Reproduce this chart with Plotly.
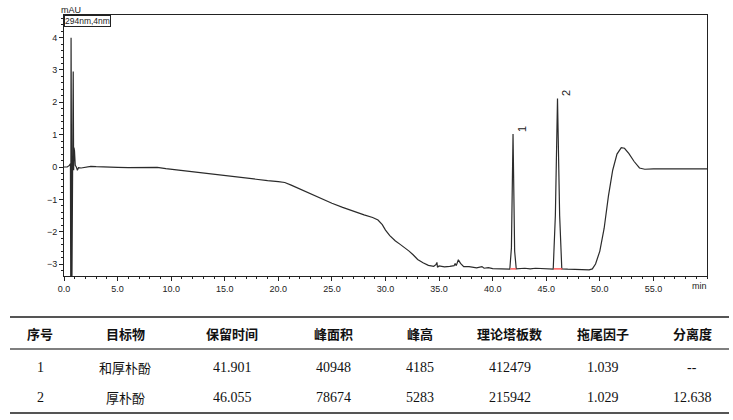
import plotly.graph_objects as go

# ---- chromatogram data ----
time_min = [0.0, 0.3, 0.5, 0.6, 0.63, 0.66, 0.70, 0.74, 0.80, 0.86, 0.90, 0.93, 0.98,
            1.05, 1.15, 1.25, 1.35, 1.6, 2.0, 2.5, 3.0, 4.0, 5.0, 6.0, 7.0, 8.0, 8.7,
            9.5, 10.5, 11.5, 12.7, 14.0, 15.0, 16.0, 17.5, 19.0, 20.0, 20.6, 21.2,
            22.0, 23.0, 24.0, 25.0, 26.0, 27.0, 28.0, 28.8, 29.3, 29.7, 30.0, 30.4,
            30.9, 31.4, 31.9, 32.2, 32.6, 33.0, 33.5, 34.0, 34.5, 34.7, 34.8, 34.85,
            35.0, 35.5, 36.0, 36.4, 36.5, 36.6, 36.8, 37.0, 37.3, 37.8, 38.5, 39.0,
            39.2, 39.6, 40.0, 40.5, 41.0, 41.6, 41.75, 41.9, 42.05, 42.2, 43.0, 43.5,
            44.0, 45.0, 45.65, 45.85, 46.05, 46.25, 46.45, 47.0, 48.0, 49.0, 49.3,
            49.6, 50.0, 50.4, 50.8, 51.2, 51.6, 52.0, 52.3, 52.7, 53.2, 53.7, 54.2,
            55.0, 57.0, 60.0]
signal_mau = [0.0, 0.0, 0.05, 0.1, -3.6, 4.0, 0.3, -3.6, 0.2, 2.95, -0.1, 0.6, 0.5,
              0.05, 0.0, -0.1, -0.02, -0.03, 0.0, 0.02, 0.01, -0.01, -0.01, -0.02, -0.01, -0.01, -0.01,
              -0.05, -0.09, -0.13, -0.18, -0.24, -0.28, -0.32, -0.37, -0.42, -0.45, -0.48, -0.56,
              -0.68, -0.83, -0.98, -1.12, -1.25, -1.37, -1.48, -1.56, -1.64, -1.78, -1.95, -2.12,
              -2.28, -2.40, -2.52, -2.60, -2.72, -2.86, -2.96, -3.04, -3.07, -3.02, -2.95, -3.10,
              -3.06, -3.09, -3.07, -3.05, -2.98, -3.05, -2.87, -2.98, -3.08, -3.08, -3.12, -3.08,
              -3.13, -3.11, -3.14, -3.15, -3.15, -3.16, -2.5, 1.02, -2.6, -3.15, -3.13, -3.15,
              -3.13, -3.16, -3.16, -1.5, 2.12, -1.5, -3.15, -3.16, -3.17, -3.18, -3.15,
              -3.0, -2.6, -1.9, -0.9, -0.1, 0.4, 0.6, 0.58, 0.42, 0.17, -0.03, -0.07,
              -0.06, -0.06, -0.06]

peak_labels = ["1", "2"]
peak_times = [41.9, 46.05]
peak_heights = [1.02, 2.12]
peak_start = [41.65, 45.7]
peak_end = [42.2, 46.5]
peak_base = [-3.15, -3.15]

x_ticks = [0, 5, 10, 15, 20, 25, 30, 35, 40, 45, 50, 55]
x_tick_text = ["0.0", "5.0", "10.0", "15.0", "20.0", "25.0", "30.0", "35.0",
               "40.0", "45.0", "50.0", "55.0"]
y_ticks = [-3, -2, -1, 0, 1, 2, 3, 4]

# ---- table data ----
table_header = ["序号", "目标物", "保留时间", "峰面积", "峰高", "理论塔板数", "拖尾因子", "分离度"]
col_no = ["1", "2"]
col_target = ["和厚朴酚", "厚朴酚"]
col_rt = ["41.901", "46.055"]
col_area = ["40948", "78674"]
col_height = ["4185", "5283"]
col_plates = ["412479", "215942"]
col_tailing = ["1.039", "1.029"]
col_resolution = ["--", "12.638"]

W, H = 733, 420
ML, MR, MT, MB = 64, 26, 15, 144
PW, PH = W - ML - MR, H - MT - MB


def px_x(X):
    return (X - ML) / PW


def px_y(Y):
    return (H - MB - Y) / PH


fig = go.Figure()
fig.add_trace(go.Scatter(x=time_min, y=signal_mau, mode="lines",
                         line=dict(color="#2b2b2b", width=1.2), hoverinfo="skip"))
for s, e, b in zip(peak_start, peak_end, peak_base):
    fig.add_trace(go.Scatter(x=[s, e], y=[b, b], mode="lines",
                             line=dict(color="#ff5a5a", width=1.5), hoverinfo="skip"))

annotations = []
for lab, t, h in zip(peak_labels, peak_times, peak_heights):
    annotations.append(dict(x=t, y=h, xref="x", yref="y", text=lab, showarrow=False,
                            textangle=-90, xanchor="left", yanchor="bottom", xshift=1, yshift=0,
                            font=dict(family="Liberation Sans", size=11, color="#222")))
annotations.append(dict(x=59.3, y=0, xref="x", yref="paper", text="min", showarrow=False,
                        xanchor="center", yanchor="top", yshift=-3,
                        font=dict(family="Liberation Sans", size=9, color="#222")))
annotations.append(dict(x=px_x(71), y=px_y(10), xref="paper", yref="paper", text="mAU",
                        showarrow=False, xanchor="center", yanchor="middle",
                        font=dict(family="Liberation Sans", size=9, color="#222")))
annotations.append(dict(x=0, y=1, xref="paper", yref="paper", text="294nm,4nm",
                        showarrow=False, xanchor="left", yanchor="top",
                        bordercolor="#222", borderwidth=1, borderpad=0, bgcolor="white",
                        font=dict(family="Liberation Sans", size=8.5, color="#222")))

col_x = [40, 125, 232, 333, 420, 510, 603, 692]
header_y = 333
row_y = [367, 397]
for cx, txt in zip(col_x, table_header):
    annotations.append(dict(x=px_x(cx), y=px_y(header_y), xref="paper", yref="paper",
                            text="<b>" + txt + "</b>", showarrow=False,
                            xanchor="center", yanchor="middle",
                            font=dict(family="Noto Sans CJK SC", size=13, color="#111")))
columns = [col_no, col_target, col_rt, col_area, col_height, col_plates, col_tailing, col_resolution]
for cx, col in zip(col_x, columns):
    for ry, txt in zip(row_y, col):
        fam = "Noto Sans CJK SC" if any(ord(c) > 127 for c in txt) else "Liberation Serif"
        size = 13 if fam.startswith("Noto") else 14
        annotations.append(dict(x=px_x(cx), y=px_y(ry), xref="paper", yref="paper",
                                text=txt, showarrow=False,
                                xanchor="center", yanchor="middle",
                                font=dict(family=fam, size=size, color="#111")))

shapes = []
for Y, wdt in [(317, 1.8), (349, 1.3), (413, 1.8)]:
    shapes.append(dict(type="line", xref="paper", yref="paper",
                       x0=px_x(10), x1=px_x(729), y0=px_y(Y), y1=px_y(Y),
                       line=dict(color="#555", width=wdt)))

fig.update_layout(
    width=W, height=H, margin=dict(l=ML, r=MR, t=MT, b=MB),
    paper_bgcolor="white", plot_bgcolor="white", showlegend=False,
    annotations=annotations, shapes=shapes,
    xaxis=dict(range=[0, 60], tickvals=x_ticks, ticktext=x_tick_text, ticks="outside",
               ticklen=4, tickwidth=1, tickcolor="#222", showgrid=False, zeroline=False,
               showline=True, linecolor="#222", linewidth=1, mirror=True,
               minor=dict(dtick=1, ticks="outside", ticklen=2, tickcolor="#222"),
               tickfont=dict(family="Liberation Sans", size=9, color="#222")),
    yaxis=dict(range=[-3.37, 4.70], tickvals=y_ticks, ticks="outside",
               ticklen=4, tickwidth=1, tickcolor="#222", showgrid=False, zeroline=False,
               showline=True, linecolor="#222", linewidth=1, mirror=True,
               minor=dict(dtick=0.2, ticks="outside", ticklen=2, tickcolor="#222"),
               tickfont=dict(family="Liberation Sans", size=9, color="#222")),
)

fig.write_html("out.html", config={"displayModeBar": False},
               post_script="document.body.style.margin='0';")
